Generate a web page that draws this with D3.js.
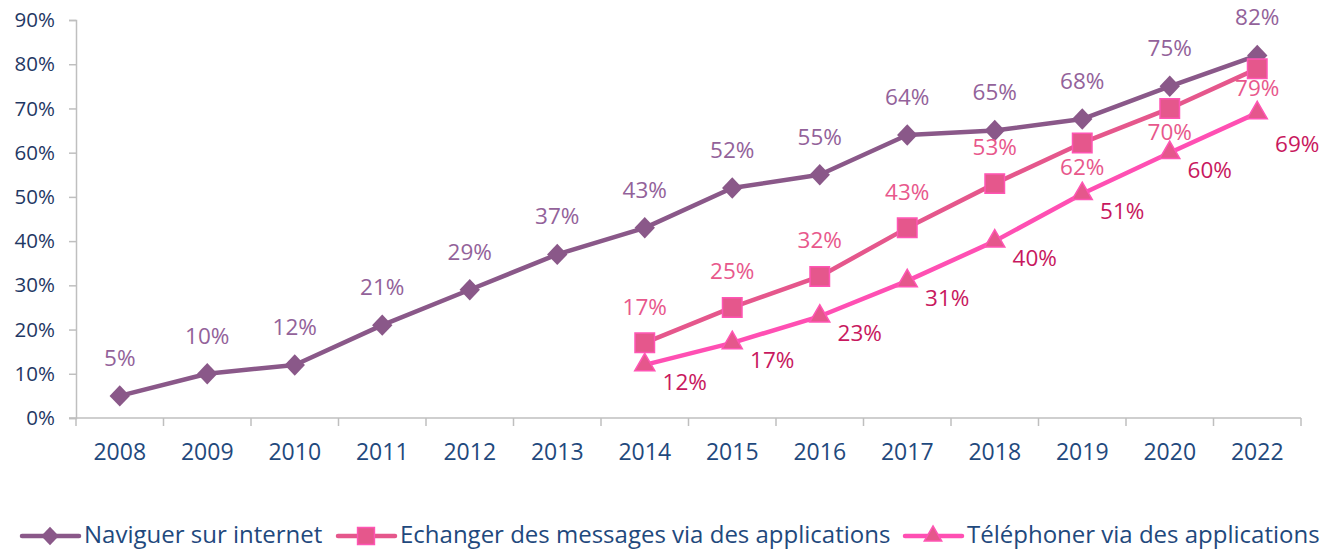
<!DOCTYPE html>
<html>
<head>
<meta charset="utf-8">
<script src="https://cdn.jsdelivr.net/npm/d3@7"></script>
<style>
  body { margin: 0; background: #fff; }
  svg text { font-family: "Open Sans", "Noto Sans", sans-serif; }
</style>
</head>
<body>
<svg width="1323" height="550"></svg>
<script>
var years = ["2008","2009","2010","2011","2012","2013","2014","2015","2016","2017","2018","2019","2020","2022"];
var naviguer = [5, 10, 12, 21, 29, 37, 43, 52, 55, 64, 65, 67.6, 75, 82];
var echanger = [null, null, null, null, null, null, 17, 25, 32, 43, 53, 62.2, 70, 79];
var telephoner = [null, null, null, null, null, null, 12, 17, 23, 31, 40, 50.7, 60, 69];
var yTicks = [0, 10, 20, 30, 40, 50, 60, 70, 80, 90];
var seriesNames = ["Naviguer sur internet", "Echanger des messages via des applications", "Téléphoner via des applications"];

var svg = d3.select("svg"),
    width = +svg.attr("width"),
    height = +svg.attr("height");

var x = d3.scaleBand().domain(years).range([76, 1301]);
var y = d3.scaleLinear().domain([0, 90]).range([418, 20]);

// square rotated 45deg, like the office chart marker
var wideDiamond = {
  draw: function(ctx, size) {
    var r = Math.sqrt(size / 2);
    ctx.moveTo(0, -r); ctx.lineTo(r * 0.95, 0); ctx.lineTo(0, r); ctx.lineTo(-r * 0.95, 0); ctx.closePath();
  }
};

var series = [
  {name: seriesNames[0], values: naviguer, line: "#8a5889", fill: "#8a5889", stroke: "#8a5889",
   label: "#93629a", shape: wideDiamond, size: 230, pos: function(i) { return [0, -38]; }},
  {name: seriesNames[1], values: echanger, line: "#e5578c", fill: "#e5578c", stroke: "#ff55b4",
   label: "#e8588c", shape: d3.symbolSquare, size: 380, pos: function(i) { return i >= 11 ? [0, i == 13 ? 19 : 24] : [0, -36]; }},
  {name: seriesNames[2], values: telephoner, line: "#ff4fb3", fill: "#e5578c", stroke: "#ff55b4",
   label: "#c8185e", shape: d3.symbolTriangle, size: 175, pos: function(i) { return [40, i == 13 ? 31 : 17]; }}
];

// axes
var gy = svg.append("g").attr("transform", "translate(76,0)")
  .call(d3.axisLeft(y).tickValues(yTicks).tickSize(7).tickPadding(14).tickFormat(function(d) { return d + "%"; }));
gy.select(".domain").attr("stroke", "#bfbfbf").attr("stroke-width", 1.5);
gy.selectAll(".tick line").attr("stroke", "#bfbfbf").attr("stroke-width", 1.5);
gy.selectAll("text").attr("fill", "#1f3864").style("font-size", "20.5px");

var gx = svg.append("g").attr("transform", "translate(0,418)");
gx.append("line").attr("x1", 69).attr("x2", 1301).attr("stroke", "#bfbfbf").attr("stroke-width", 1.5);
gx.selectAll(".tk").data(years.concat(["end"])).enter().append("line")
  .attr("x1", function(d, i) { return 76 + i * x.bandwidth(); })
  .attr("x2", function(d, i) { return 76 + i * x.bandwidth(); })
  .attr("y1", 0).attr("y2", 8)
  .attr("stroke", "#bfbfbf").attr("stroke-width", 1.5);
gx.selectAll(".lbl").data(years).enter().append("text")
  .attr("x", function(d) { return x(d) + x.bandwidth() / 2; })
  .attr("y", 42)
  .attr("text-anchor", "middle")
  .attr("fill", "#1f497d")
  .style("font-size", "23px")
  .text(function(d) { return d; });

var cx = function(i) { return x(years[i]) + x.bandwidth() / 2; };

series.forEach(function(s) {
  var pts = s.values.map(function(v, i) { return {v: v, i: i}; }).filter(function(p) { return p.v != null; });
  var line = d3.line().x(function(p) { return cx(p.i); }).y(function(p) { return y(p.v); });
  svg.append("path").datum(pts).attr("d", line)
    .attr("fill", "none").attr("stroke", s.line).attr("stroke-width", 4.5).attr("stroke-linejoin", "round");
  svg.append("g").selectAll("path").data(pts).enter().append("path")
    .attr("d", d3.symbol().type(s.shape).size(s.size))
    .attr("transform", function(p) { return "translate(" + cx(p.i) + "," + y(p.v) + ")"; })
    .attr("fill", s.fill).attr("stroke", s.stroke).attr("stroke-width", s.shape === wideDiamond ? 0 : 1.5);
});

series.forEach(function(s) {
  var pts = s.values.map(function(v, i) { return {v: v, i: i}; }).filter(function(p) { return p.v != null; });
  svg.append("g").selectAll("text").data(pts).enter().append("text")
    .attr("x", function(p) { return cx(p.i) + s.pos(p.i)[0]; })
    .attr("y", function(p) { return y(p.v) + s.pos(p.i)[1]; })
    .attr("dy", "0.35em")
    .attr("text-anchor", "middle")
    .attr("fill", s.label)
    .style("font-size", "22.5px")
    .text(function(p) { return Math.round(p.v) + "%"; });
});

// legend
var legX = [22, 338, 905];
var leg = svg.append("g").attr("transform", "translate(0,536)");
series.forEach(function(s, k) {
  var g = leg.append("g").attr("transform", "translate(" + legX[k] + ",0)");
  g.append("line").attr("x1", 0).attr("x2", 57).attr("stroke", s.line).attr("stroke-width", 4.5).attr("stroke-linecap", "round");
  g.append("path").attr("d", d3.symbol().type(s.shape).size(s.size * 0.75))
    .attr("transform", "translate(28,0)")
    .attr("fill", s.fill).attr("stroke", s.stroke).attr("stroke-width", s.shape === wideDiamond ? 0 : 1.5);
  g.append("text").attr("x", 62).attr("y", 6.5)
    .attr("fill", "#1f497d").style("font-size", "24px").text(s.name);
});
</script>
</body>
</html>
